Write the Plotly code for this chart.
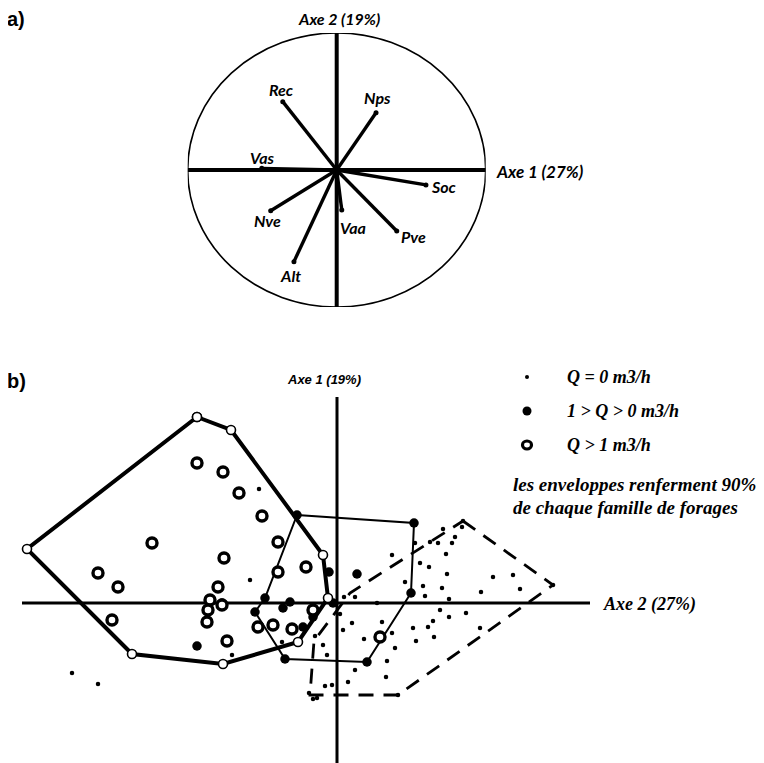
import plotly.graph_objects as go

# ---------------- panel a) : correlation circle ----------------
var_names = ["Rec", "Nps", "Vas", "Soc", "Pve", "Vaa", "Alt", "Nve"]
var_x = [-0.362, 0.264, -0.503, 0.599, 0.403, 0.034, -0.287, -0.443]
var_y = [0.499, 0.418, 0.012, -0.109, -0.445, -0.292, -0.669, -0.297]
# label offsets in pixels (dx right, dy down) relative to arrow tips
label_dx = [-1, 1, 1, 18, 17, 11, -3, -3]
label_dy = [-12, -15, -11, 2, 6, 18, 14, 10]

# ---------------- panel b) : individuals ----------------
# Q = 0 m3/h  (small dots)
q0_x = [1.26, 1.06, 1.25, 0.93, 1.01, 1.15, 1.18, 0.78, 0.55, 1.09, 0.83, 0.92, 1.10, 1.56,
        1.76, 2.16, 0.68, 0.86, 1.05, 1.44, 1.83, 0.18, 0.07, 0.88, 1.12, 0.40, 1.03, 1.29,
        1.12, 0.96, 0.45, 0.15, 0.06, 0.76, 0.91, 1.43, 0.55, 0.27, 0.79, 0.97, 0.58, 0.50,
        0.18, 0.49, 0.11, -0.12, 0.61, -0.24, -0.28, -0.14, -0.10, -0.22, 0.03, -0.05, -0.78,
        -0.87, -2.65, -2.39, -1.05, -0.55, -0.20]
q0_y = [0.82, 0.74, 0.76, 0.61, 0.60, 0.60, 0.66, 0.60, 0.48, 0.49, 0.40, 0.36, 0.29, 0.26,
        0.28, 0.18, 0.21, 0.17, 0.15, 0.11, 0.14, 0.06, 0.06, 0.07, 0.04, 0.00, -0.07, -0.10,
        -0.14, -0.18, -0.19, -0.20, -0.27, -0.25, -0.24, -0.25, -0.30, -0.36, -0.38, -0.34,
        -0.45, -0.58, -0.67, -0.74, -0.79, -0.83, -0.92, -0.96, -0.90, -0.42, -0.52, -0.33,
        -0.11, -0.82, 1.14, 0.23, -0.70, -0.81, -0.52, -0.39, -0.95]
# 1 > Q > 0 m3/h  (filled dots)
q1_x = [-0.40, -0.08, -0.72, -0.47, -0.54, -0.82, -1.15, -1.40, -0.52, -0.24, -0.34, 0.77,
        0.20, 0.74, 0.30, -0.04]
q1_y = [0.88, 0.31, 0.05, 0.01, -0.05, -0.09, 0.00, -0.43, -0.56, -0.14, -0.24, 0.80,
        0.29, 0.10, -0.59, 0.00]
# Q > 1 m3/h  (open circles, inner ones; hull vertices are in env2)
q2_x = [-1.40, -1.14, -0.98, -0.75, -0.59, -1.85, -1.13, -0.31, -2.39,
        -2.19, -0.59, -1.19, -1.27, -1.15, -1.29, -1.30, -2.25, -1.10,
        -0.79, -0.64, -0.45, -0.24, 0.43]
q2_y = [1.40, 1.31, 1.10, 0.87, 0.61, 0.60, 0.45, 0.36, 0.30, 0.16, 0.31,
        0.16, 0.03, -0.02, -0.07, -0.19, -0.17, -0.38, -0.24, -0.22,
        -0.26, -0.07, -0.34]

# 90 % envelopes (hull vertices)
env0_x = [1.26, 2.16, 0.61, -0.27, -0.23, 0.13, 1.26]
env0_y = [0.82, 0.18, -0.92, -0.92, -0.38, 0.10, 0.82]
env1_x = [-0.40, 0.77, 0.74, 0.30, -0.52, -0.82, -0.72, -0.40]
env1_y = [0.88, 0.80, 0.10, -0.59, -0.56, -0.09, 0.05, 0.88]
env2_x = [-1.40, -1.06, -0.14, -0.09, -0.39, -1.14, -2.05, -3.10, -1.40]
env2_y = [1.86, 1.73, 0.48, 0.05, -0.39, -0.61, -0.51, 0.54, 1.86]

legend_labels = ["Q = 0 m3/h", "1 > Q > 0 m3/h", "Q > 1 m3/h"]
note_lines = ["les enveloppes renferment 90%", "de chaque famille de forages"]

OFF = 8                      # page body margin
W, H = 764 - OFF, 763 - OFF
def px(x):
    return (x - OFF) / W
def py(y):
    return 1 - (y - OFF) / H

fig = go.Figure()

# ---- panel a traces ----
vx, vy = [], []
for x, y in zip(var_x, var_y):
    vx += [0, x, None]
    vy += [0, y, None]
fig.add_trace(go.Scatter(x=vx, y=vy, mode="lines", line=dict(color="black", width=3.4),
                         xaxis="x", yaxis="y", hoverinfo="skip", showlegend=False))
fig.add_trace(go.Scatter(x=var_x, y=var_y, mode="markers", marker=dict(color="black", size=5),
                         xaxis="x", yaxis="y", text=var_names, showlegend=False))

# ---- panel b traces ----
fig.add_trace(go.Scatter(x=env0_x, y=env0_y, mode="lines",
                         line=dict(color="black", width=2.8, dash="15px,10px"),
                         xaxis="x2", yaxis="y2", showlegend=False, hoverinfo="skip"))
fig.add_trace(go.Scatter(x=env1_x, y=env1_y, mode="lines", line=dict(color="black", width=2),
                         xaxis="x2", yaxis="y2", showlegend=False, hoverinfo="skip"))
fig.add_trace(go.Scatter(x=q0_x, y=q0_y, mode="markers", marker=dict(color="black", size=4.5),
                         xaxis="x2", yaxis="y2", name=legend_labels[0], showlegend=False))
fig.add_trace(go.Scatter(x=q1_x, y=q1_y, mode="markers", marker=dict(color="black", size=9.5),
                         xaxis="x2", yaxis="y2", name=legend_labels[1], showlegend=False))
fig.add_trace(go.Scatter(x=q2_x, y=q2_y, mode="markers",
                         marker=dict(color="white", size=10, line=dict(color="black", width=3.4)),
                         xaxis="x2", yaxis="y2", name=legend_labels[2], showlegend=False))
fig.add_trace(go.Scatter(x=env2_x, y=env2_y, mode="lines+markers", line=dict(color="black", width=4),
                         marker=dict(color="white", size=9, line=dict(color="black", width=1.6)),
                         xaxis="x2", yaxis="y2", showlegend=False))

shapes = [
    # panel a circle and axes
    dict(type="circle", xref="x", yref="y", x0=-1, x1=1, y0=-1, y1=1,
         line=dict(color="black", width=1.6), layer="below"),
    dict(type="line", xref="x", yref="y", x0=-1, x1=1, y0=0, y1=0,
         line=dict(color="black", width=4), layer="below"),
    dict(type="line", xref="x", yref="y", x0=0, x1=0, y0=-1, y1=1,
         line=dict(color="black", width=4), layer="below"),
    # panel b axes
    dict(type="line", xref="x2", yref="y2", x0=-3.15, x1=2.53, y0=0, y1=0,
         line=dict(color="black", width=3), layer="below"),
    dict(type="line", xref="x2", yref="y2", x0=0, x1=0, y0=-1.62, y1=2.06,
         line=dict(color="black", width=3), layer="below"),
]

# legend symbols
leg_y = [377, 411, 445]
shapes.append(dict(type="circle", xref="paper", yref="paper", xsizemode="pixel", ysizemode="pixel",
                   xanchor=px(527), yanchor=py(leg_y[0]), x0=-2, x1=2, y0=-2, y1=2,
                   fillcolor="black", line=dict(width=0)))
shapes.append(dict(type="circle", xref="paper", yref="paper", xsizemode="pixel", ysizemode="pixel",
                   xanchor=px(527), yanchor=py(leg_y[1]), x0=-4.5, x1=4.5, y0=-4.5, y1=4.5,
                   fillcolor="black", line=dict(width=0)))
shapes.append(dict(type="circle", xref="paper", yref="paper", xsizemode="pixel", ysizemode="pixel",
                   xanchor=px(527), yanchor=py(leg_y[2]), x0=-4.5, x1=4.5, y0=-4, y1=4,
                   fillcolor="white", line=dict(color="black", width=3.2)))

ann = []
lab_font = dict(family="Lato, Open Sans, DejaVu Sans", size=16, color="black")
ax_font = dict(family="Lato, Open Sans, DejaVu Sans", size=17, color="black")
for n, x, y, dx, dy in zip(var_names, var_x, var_y, label_dx, label_dy):
    ann.append(dict(x=x, y=y, xref="x", yref="y", text="<b><i>%s</i></b>" % n, showarrow=False,
                    xshift=dx, yshift=-dy, font=lab_font, yanchor="middle"))
ann.append(dict(x=px(339), y=py(8), xref="paper", yref="paper", text="<b><i>Axe 2 (19%)</i></b>",
                showarrow=False, font=dict(ax_font, size=16), yanchor="top", borderpad=0))
ann.append(dict(x=px(494), y=py(172), xref="paper", yref="paper", text="<b><i>Axe 1 (27%)</i></b>",
                showarrow=False, xanchor="left", yanchor="middle", font=ax_font))

ab_font = dict(family="Liberation Sans Narrow, Liberation Sans, Arial", size=20, color="black")
ann.append(dict(x=px(5), y=py(19), xref="paper", yref="paper", text="<b>a)</b>", showarrow=False,
                xanchor="left", yanchor="middle", font=ab_font))
ann.append(dict(x=px(5), y=py(381), xref="paper", yref="paper", text="<b>b)</b>", showarrow=False,
                xanchor="left", yanchor="middle", font=ab_font))

ann.append(dict(x=px(324), y=py(379), xref="paper", yref="paper", text="<b><i>Axe 1 (19%)</i></b>",
                showarrow=False, yanchor="middle",
                font=dict(family="Liberation Sans Narrow, Liberation Sans", size=13, color="black")))
serif = dict(family="Liberation Serif, Times New Roman, serif", size=18, color="black")
note = dict(family="Liberation Serif, Times New Roman, serif", size=19, color="black")
ann.append(dict(x=px(601), y=py(604), xref="paper", yref="paper", text="<b><i>Axe 2 (27%)</i></b>",
                showarrow=False, xanchor="left", yanchor="middle", font=serif))
for t, yy in zip(legend_labels, leg_y):
    ann.append(dict(x=px(565), y=py(yy), xref="paper", yref="paper", text="<b><i>%s</i></b>" % t,
                    showarrow=False, xanchor="left", yanchor="middle", font=serif))
for t, yy in zip(note_lines, [484, 507]):
    ann.append(dict(x=px(511), y=py(yy), xref="paper", yref="paper", text="<b><i>%s</i></b>" % t,
                    showarrow=False, xanchor="left", yanchor="middle", font=note))

ax_common = dict(visible=False, showgrid=False, zeroline=False, fixedrange=True)
fig.update_layout(
    width=W, height=H, margin=dict(l=0, r=0, t=0, b=0),
    paper_bgcolor="white", plot_bgcolor="white", showlegend=False,
    xaxis=dict(domain=[px(187.7), px(485.7)], range=[-1, 1], anchor="y", **ax_common),
    yaxis=dict(domain=[py(307), py(33)], range=[-1, 1], anchor="x", **ax_common),
    xaxis2=dict(domain=[0, 1], range=[(OFF - 337) / 100, 4.27], anchor="y2", **ax_common),
    yaxis2=dict(domain=[0, py(360)], range=[-1.60, 2.43], anchor="x2", **ax_common),
    shapes=shapes, annotations=ann,
)

fig.write_html("out.html")
